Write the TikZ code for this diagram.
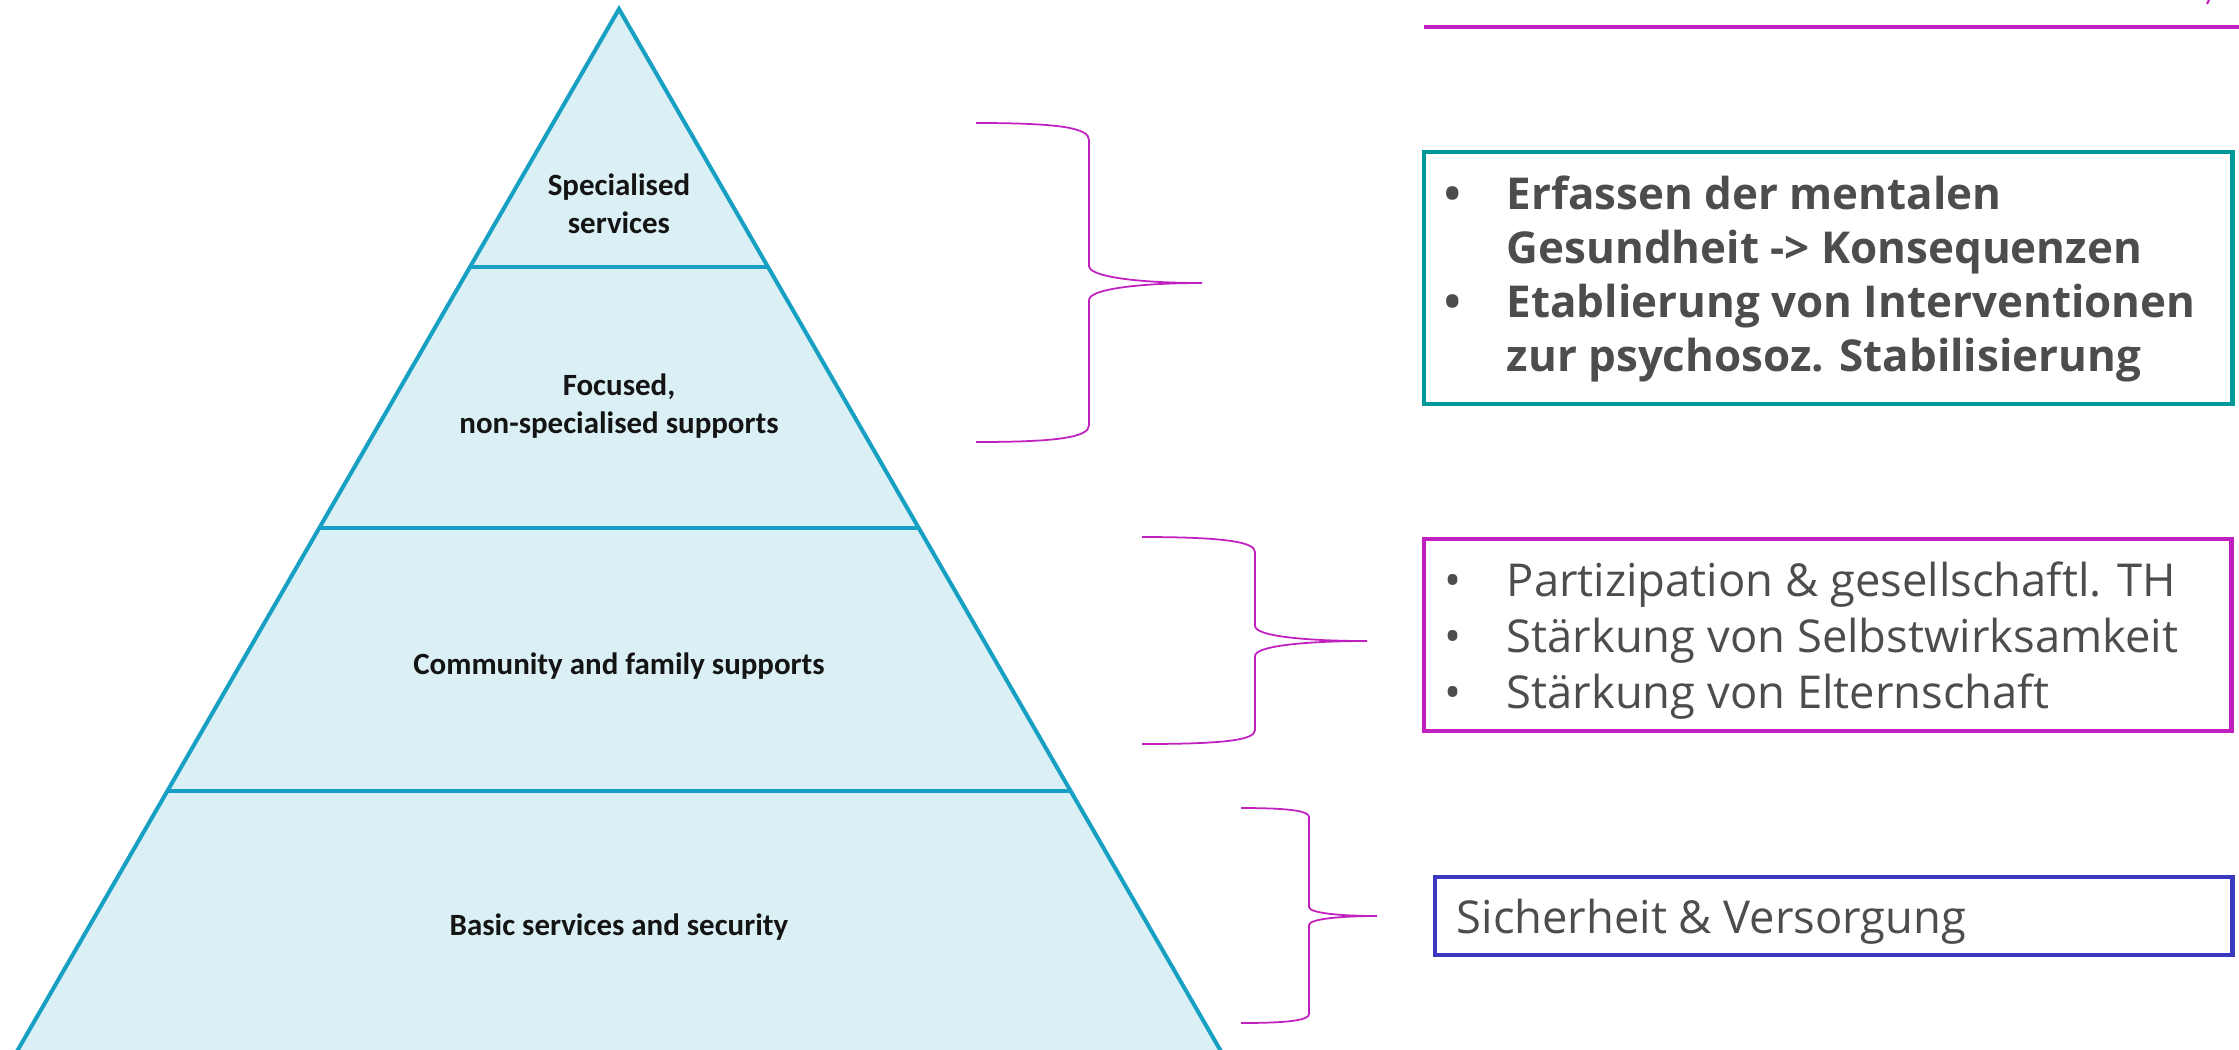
\documentclass[tikz,border=0pt]{standalone}
\usepackage{fontspec}
\setmainfont{Open Sans}
\newfontfamily\tierfont{Carlito}
\definecolor{pyrline}{RGB}{24,160,196}
\definecolor{pyrfill}{RGB}{218,240,245}
\definecolor{boxteal}{RGB}{0,153,153}
\definecolor{boxmagenta}{RGB}{192,32,192}
\definecolor{boxblue}{RGB}{58,58,192}
\definecolor{textgray}{RGB}{77,77,77}
\tikzset{
  pyr/.style={draw=pyrline, line width=1.15pt},
  tier/.style={font=\tierfont\bfseries\fontsize{8.8}{10.8}\selectfont, align=center, text=black!92},
  curly/.style={draw=boxmagenta, line width=0.5pt},
  frame/.style={line width=1.4pt},
  boldline/.style={anchor=base west, inner sep=0pt, text=textgray, font=\bfseries\fontsize{12.5}{14}\selectfont},
  plainline/.style={anchor=base west, inner sep=0pt, text=textgray, font=\fontsize{12.9}{15}\selectfont}
}

\begin{document}
\begin{tikzpicture}[x=0.1mm, y=-0.1mm]
  \useasboundingbox (0,0) rectangle (2239,1049);

  % pyramid
  \fill[pyrfill] (619,9) -- (12,1060) -- (1226,1060) -- cycle;
  \draw[pyr] (12,1060) -- (619,9) -- (1226,1060);
  \draw[pyr] (470,267) -- (768,267);
  \draw[pyr] (319,528) -- (919,528);
  \draw[pyr] (167,791) -- (1071,791);
  \node (spec) [tier] at (619,204) {Specialised\\services};
  \node (focus) [tier] at (619,406) {Focused,\\non-specialised supports};
  \node (comm) [tier] at (619,666) {Community and family supports};
  \node (basic) [tier] at (619,927) {Basic services and security};

  % braces
  \draw[curly] (976,123) .. controls (1060,123) and (1089,128) .. (1089,140) -- (1089,266)
    .. controls (1089,277) and (1140,283) .. (1202,283)
    .. controls (1140,283) and (1089,289) .. (1089,300) -- (1089,425)
    .. controls (1089,437) and (1060,442) .. (976,442);
  \draw[curly] (1142,537) .. controls (1225,537) and (1255,542) .. (1255,552) -- (1255,626)
    .. controls (1255,636) and (1305,641) .. (1367,641)
    .. controls (1305,641) and (1255,646) .. (1255,656) -- (1255,730)
    .. controls (1255,740) and (1225,744) .. (1142,744);
  \draw[curly] (1241,808) .. controls (1290,808) and (1309,811) .. (1309,817) -- (1309,907)
    .. controls (1309,913) and (1340,916) .. (1377,916)
    .. controls (1340,916) and (1309,919) .. (1309,925) -- (1309,1014)
    .. controls (1309,1020) and (1290,1023) .. (1241,1023);

  % top rule
  \draw[boxmagenta, line width=1pt] (1424,27) -- (2239,27);
  \draw[boxmagenta, line width=0.6pt] (2209,0) -- (2207,4);

  % boxes
  \draw[frame, boxteal] (1424,152) rectangle (2232,404);
  \draw[frame, boxmagenta] (1424,539) rectangle (2231,731);
  \draw[frame, boxblue] (1435,877) rectangle (2232,955);

  \node (b1) [boldline] at (1444,209) {\textbullet};
  \node (b1a) [boldline] at (1506,209) {Erfassen der mentalen};
  \node (b1b) [boldline] at (1506,263) {Gesundheit -> Konsequenzen};
  \node (b2) [boldline] at (1444,317) {\textbullet};
  \node (b2a) [boldline] at (1506,317) {Etablierung von Interventionen};
  \node (b2b) [boldline] at (1506,371) {zur psychosoz. Stabilisierung};

  \node (p1) [plainline] at (1444,596) {\textbullet};
  \node (p1a) [plainline] at (1506,596) {Partizipation \& gesellschaftl. TH};
  \node (p2) [plainline] at (1444,652) {\textbullet};
  \node (p2a) [plainline] at (1506,652) {Stärkung von Selbstwirksamkeit};
  \node (p3) [plainline] at (1444,708) {\textbullet};
  \node (p3a) [plainline] at (1506,708) {Stärkung von Elternschaft};

  \node (safe) [plainline] at (1456,933) {Sicherheit \& Versorgung};
\end{tikzpicture}
\end{document}
